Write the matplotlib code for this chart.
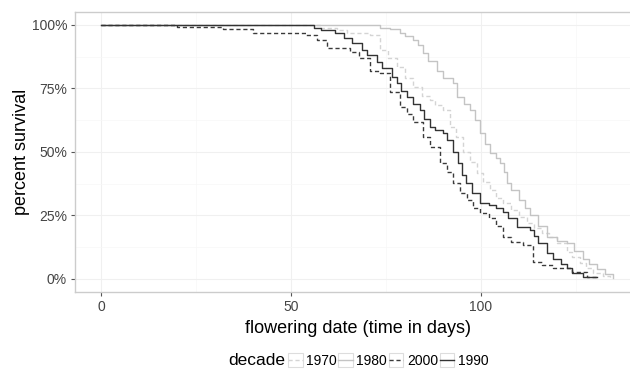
import matplotlib
matplotlib.use("Agg")
import matplotlib.pyplot as plt
from matplotlib.legend_handler import HandlerLine2D
from matplotlib.patches import Rectangle
from matplotlib.ticker import PercentFormatter, MultipleLocator

plt.rcParams['font.family'] = ['Liberation Sans', 'DejaVu Sans']

# --- dados ---
decades = ['1970', '1980', '2000', '1990']

t_1970 = [0, 58, 62, 64.7, 70.8, 73.4, 75.5, 78, 80, 82, 84.5, 86.6, 88, 90, 91.8, 93.5,
          95.3, 97, 98.9, 100.5, 102.4, 104, 105.8, 108, 110, 112, 114, 116, 118, 120,
          122.6, 124, 126, 127.5, 129.5, 132, 134]
s_1970 = [100, 99, 98, 97, 96, 90, 87, 83.5, 79, 75.6, 72, 70.5, 68.5, 66.5, 60, 56,
          50, 46, 41.7, 38, 35, 32, 30, 27, 24.5, 22, 20, 18, 16.5, 14,
          10.6, 8.5, 6.3, 4.5, 2.4, 1, 0.4]

t_1980 = [0, 73.4, 76, 78.7, 80, 82, 83.5, 84.7, 86, 88.4, 90, 92.6, 93.7, 95.5, 97, 98.4,
          99.7, 101, 102.4, 104, 105, 106, 106.8, 108, 110, 111.5, 113, 115, 117.4, 120,
          122.6, 124.5, 126.8, 128.5, 130.5, 132.5, 134.7]
s_1980 = [100, 99, 98.5, 97, 95.5, 94, 92, 89, 86, 82, 79, 77, 71.7, 69, 66.5, 62.6,
          57.5, 53, 49.6, 47.5, 45.7, 42, 37.8, 35, 31, 28, 25, 21, 16.5, 15,
          14, 11, 8, 6, 4, 2, 0.4]

t_2000 = [0, 20, 32, 40, 54, 56.8, 59.5, 65.5, 68, 70.8, 73.4, 76, 78.7, 80.5, 82, 84.7,
          86.6, 89.2, 91, 92.6, 94.5, 96.3, 98, 99.7, 102, 104, 105.8, 108, 111, 113.7,
          116, 119, 124, 128, 131]
s_2000 = [100, 99.3, 98.4, 96.9, 96, 94, 91, 89.4, 87, 82, 81, 73.6, 67.7, 65, 62, 56,
          52, 45.7, 42, 37.8, 34, 31, 28, 26, 24, 21, 16.5, 14.5, 13.4, 6.7,
          5.5, 4.3, 2.8, 0.8, 0.8]

t_1990 = [0, 56, 58, 61.6, 64, 66, 68.7, 70, 72.6, 74, 76.6, 77.9, 79, 80.5, 82, 84, 85,
          86.6, 88, 90, 91, 92.6, 94, 95, 96, 97.6, 99.7, 102, 104, 105.8, 107, 109.5,
          112.9, 114, 115, 117.4, 119, 121, 122.6, 124, 126.8, 130.5]
s_1990 = [100, 99, 98, 97, 95, 93, 90, 88, 85.4, 83, 79.5, 77, 74, 71.7, 69, 66.5, 63,
          60, 58.5, 57.5, 54.7, 50, 45.6, 41, 37.8, 34, 30, 29, 28, 26.4, 24, 20.5,
          19.3, 17, 14, 10.2, 8, 6, 4.3, 2.5, 0.8, 0.8]

series = {
    '1970': (t_1970, s_1970, '#d4d4d4', (0, (3, 2))),
    '1980': (t_1980, s_1980, '#c4c4c4', '-'),
    '2000': (t_2000, s_2000, '#3a3a3a', (0, (3, 2))),
    '1990': (t_1990, s_1990, '#333333', '-'),
}


class BoxedLine(HandlerLine2D):
    # desenha a chave da legenda com uma caixinha cinza em volta
    def create_artists(self, legend, orig_handle, xdescent, ydescent,
                       width, height, fontsize, trans):
        artists = super().create_artists(legend, orig_handle, xdescent, ydescent,
                                         width, height, fontsize, trans)
        box = Rectangle((-xdescent, -ydescent - 1.5), width, height + 3,
                        facecolor='white', edgecolor='#dddddd', lw=0.8,
                        transform=trans, zorder=0)
        return [box] + artists


fig = plt.figure(figsize=(6.3, 3.69), dpi=100)
ax = fig.add_axes([0.1197, 0.2095, 0.8957, 0.7572])

handles = {}
for name in decades:
    t, s, color, ls = series[name]
    h, = ax.step(t, s, where='post', color=color, linestyle=ls, lw=1.0)
    handles[name] = h

ax.set_xlim(-6.75, 141.75)
ax.set_ylim(-5, 105)
ax.xaxis.set_major_locator(MultipleLocator(50))
ax.xaxis.set_minor_locator(MultipleLocator(25))
ax.yaxis.set_major_locator(MultipleLocator(25))
ax.yaxis.set_minor_locator(MultipleLocator(12.5))
ax.yaxis.set_major_formatter(PercentFormatter(decimals=0))

ax.grid(which='major', color='#f0f0f0', lw=0.8)
ax.grid(which='minor', color='#f7f7f7', lw=0.5)
ax.set_axisbelow(True)

for side in ['top', 'left', 'bottom', 'right']:
    ax.spines[side].set_color('#cccccc')
    ax.spines[side].set_linewidth(1.0)
ax.tick_params(which='major', length=3, width=0.8, color='#555555',
               labelsize=10, labelcolor='#444444', pad=3)
ax.tick_params(which='minor', length=0)

ax.set_xlabel('flowering date (time in days)', fontsize=13, labelpad=4)
ax.set_ylabel('percent survival', fontsize=13, labelpad=1)

fig.text(0.362, 0.01, 'decade', fontsize=12.5, ha='left', va='baseline')
leg = fig.legend([handles[n] for n in decades], decades, loc='center left',
                 bbox_to_anchor=(0.446, 0.022), ncol=4, frameon=False,
                 fontsize=10, handlelength=1.05, handletextpad=0.25,
                 columnspacing=0.12, borderpad=0,
                 handler_map={h: BoxedLine() for h in handles.values()})

fig.savefig('out.png', dpi=100)
